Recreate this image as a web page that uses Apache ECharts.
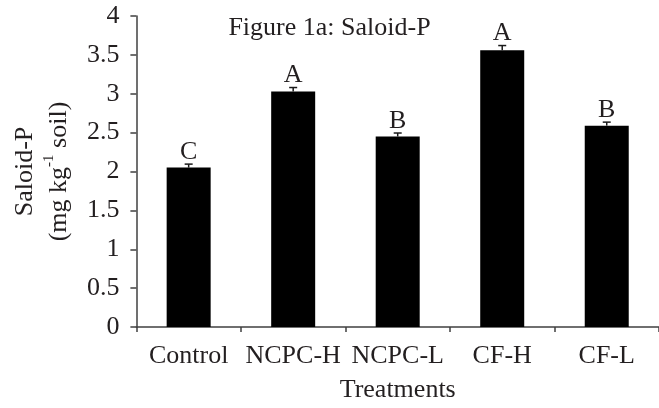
<!DOCTYPE html>
<html>
<head>
<meta charset="utf-8">
<script src="https://cdn.jsdelivr.net/npm/echarts@6/dist/echarts.min.js"></script>
<style>
  html, body { margin: 0; padding: 0; background: #fff; }
  #chart { width: 659px; height: 408px; }
</style>
</head>
<body>
<div id="chart"></div>
<script>
// Saloid-P by treatment, with standard errors and significance letters
const categories = ['Control', 'NCPC-H', 'NCPC-L', 'CF-H', 'CF-L'];
const saloidP = [2.05, 3.03, 2.45, 3.56, 2.59];
const stdErr = [0.045, 0.05, 0.045, 0.06, 0.045];
const letters = ['C', 'A', 'B', 'A', 'B'];
const yTicks = [0, 0.5, 1, 1.5, 2, 2.5, 3, 3.5, 4];

const FONT = '"Liberation Serif", "Times New Roman", serif';
const TEXT = '#231f20';
const AXIS = '#404040';

const chart = echarts.init(document.getElementById('chart'), null, { renderer: 'canvas' });

function renderErrorBar(params, api) {
  const i = api.value(0);
  const v = api.value(1);
  const e = api.value(2);
  const base = api.coord([i, v]);
  const top = api.coord([i, v + e]);
  const cap = 4;
  const lineStyle = { stroke: '#1a1a1a', lineWidth: 1.5 };
  return {
    type: 'group',
    children: [
      { type: 'line', shape: { x1: base[0], y1: base[1], x2: top[0], y2: top[1] }, style: lineStyle },
      { type: 'line', shape: { x1: top[0] - cap, y1: top[1], x2: top[0] + cap, y2: top[1] }, style: lineStyle },
      {
        type: 'text', x: top[0], y: top[1] + 1,
        style: {
          text: letters[i], align: 'center', verticalAlign: 'bottom',
          font: '26px ' + FONT, fill: TEXT
        }
      }
    ]
  };
}

chart.setOption({
  animation: false,
  backgroundColor: '#fff',
  title: {
    text: 'Figure 1a: Saloid-P',
    left: 'center',
    top: 10,
    textStyle: { fontFamily: FONT, fontSize: 26, fontWeight: 'normal', color: TEXT }
  },
  grid: { left: 133, right: -6, top: 16, bottom: 76, containLabel: false },
  xAxis: {
    type: 'category',
    data: categories,
    name: 'Treatments',
    nameLocation: 'middle',
    nameGap: 50,
    nameTextStyle: { fontFamily: FONT, fontSize: 26, color: TEXT },
    axisLine: { lineStyle: { color: AXIS, width: 1.5 } },
    axisTick: { show: true, length: 5, alignWithLabel: false, lineStyle: { color: AXIS, width: 1.5 } },
    axisLabel: { fontFamily: FONT, fontSize: 26, color: TEXT, margin: 16, interval: 0 }
  },
  yAxis: {
    type: 'value',
    min: yTicks[0],
    max: yTicks[yTicks.length - 1],
    interval: yTicks[1] - yTicks[0],
    name: 'Saloid-P\n(mg kg{sup|-1} soil)',
    nameLocation: 'middle',
    nameRotate: 90,
    nameGap: 60,
    nameTextStyle: {
      fontFamily: FONT, fontSize: 26, color: TEXT, lineHeight: 34,
      rich: { sup: { fontFamily: FONT, fontSize: 15, color: TEXT, verticalAlign: 'top', lineHeight: 34, padding: [0, 0, 12, 0] } }
    },
    splitLine: { show: false },
    axisLine: { show: true, lineStyle: { color: AXIS, width: 1.5 } },
    axisTick: { show: true, length: 6, lineStyle: { color: AXIS, width: 1.5 } },
    axisLabel: { fontFamily: FONT, fontSize: 26, color: TEXT, margin: 17 }
  },
  series: [
    {
      type: 'bar',
      data: saloidP,
      barWidth: 44,
      itemStyle: { color: '#000' }
    },
    {
      type: 'custom',
      renderItem: renderErrorBar,
      data: categories.map((c, i) => [i, saloidP[i], stdErr[i]]),
      z: 5
    }
  ]
});
</script>
</body>
</html>
